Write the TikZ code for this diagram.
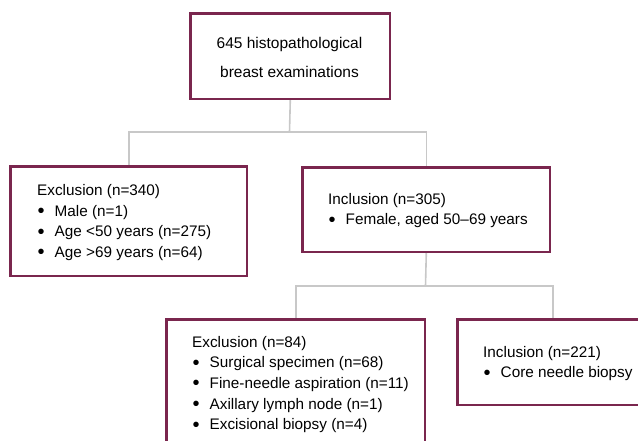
\documentclass[tikz,border=0pt]{standalone}
\usepackage{fontspec}
\setmainfont{Liberation Sans}
\definecolor{boxc}{RGB}{122,38,78}
\definecolor{linec}{RGB}{200,200,200}
\newcommand{\bul}{\makebox[17.5pt][l]{\hspace{0.3pt}{\fontsize{20}{20}\selectfont\raisebox{-1.4pt}{•}}}}
\begin{document}
\begin{tikzpicture}[x=1pt,y=-1pt,
  box/.style={draw=boxc, line width=1.6pt, rectangle, inner sep=0pt, anchor=north west},
  conn/.style={draw=linec, line width=1.6pt},
  txt/.style={inner sep=0pt, anchor=north west, align=left, font=\fontsize{15.3}{20.6}\selectfont},
]
\useasboundingbox (0,0) rectangle (638,441);
\clip (0,0) rectangle (638,441);
\fill[white] (0,0) rectangle (638,441);
% boxes
\node[box, minimum width=199pt, minimum height=85pt] (top) at (190,13) {};
\node[box, minimum width=236pt, minimum height=109pt] (exA) at (10,166) {};
\node[box, minimum width=247pt, minimum height=84pt] (inA) at (302,167) {};
\node[box, minimum width=258pt, minimum height=130pt] (exB) at (166,319) {};
\node[box, minimum width=190pt, minimum height=85pt] (inB) at (457,319) {};
% junctions
\coordinate (j1) at (289.5,132);
\coordinate (j2) at (425.5,286);
\draw[conn] (top.south) -- (j1);
\draw[conn] (exA.north) |- (j1) -| (inA.north);
\draw[conn] (inA.south) -- (j2);
\draw[conn] (exB.north) |- (j2) -| (inB.north);
% redraw boxes on top
\draw[draw=boxc, line width=1.6pt] (top.north west) rectangle (top.south east);
\draw[draw=boxc, line width=1.6pt] (exA.north west) rectangle (exA.south east);
\draw[draw=boxc, line width=1.6pt] (inA.north west) rectangle (inA.south east);
\draw[draw=boxc, line width=1.6pt] (exB.north west) rectangle (exB.south east);
\draw[draw=boxc, line width=1.6pt] (inB.north west) rectangle (inB.south east);
% texts
\node[txt, anchor=north, align=center, font=\fontsize{15.5}{29}\selectfont] (t0) at (289.5,37) {645 histopathological\\breast examinations};
\node[txt] (t1) at (37,184.5) {Exclusion (n=340)\\\bul Male (n=1)\\\bul Age <50 years (n=275)\\\bul Age >69 years (n=64)};
\node[txt] (t2) at (328,193) {Inclusion (n=305)\\\bul Female, aged 50–69 years};
\node[txt] (t3) at (192,336) {Exclusion (n=84)\\\bul Surgical specimen (n=68)\\\bul Fine-needle aspiration (n=11)\\\bul Axillary lymph node (n=1)\\\bul Excisional biopsy (n=4)};
\node[txt] (t4) at (483,346) {Inclusion (n=221)\\\bul Core needle biopsy};
\end{tikzpicture}
\end{document}
